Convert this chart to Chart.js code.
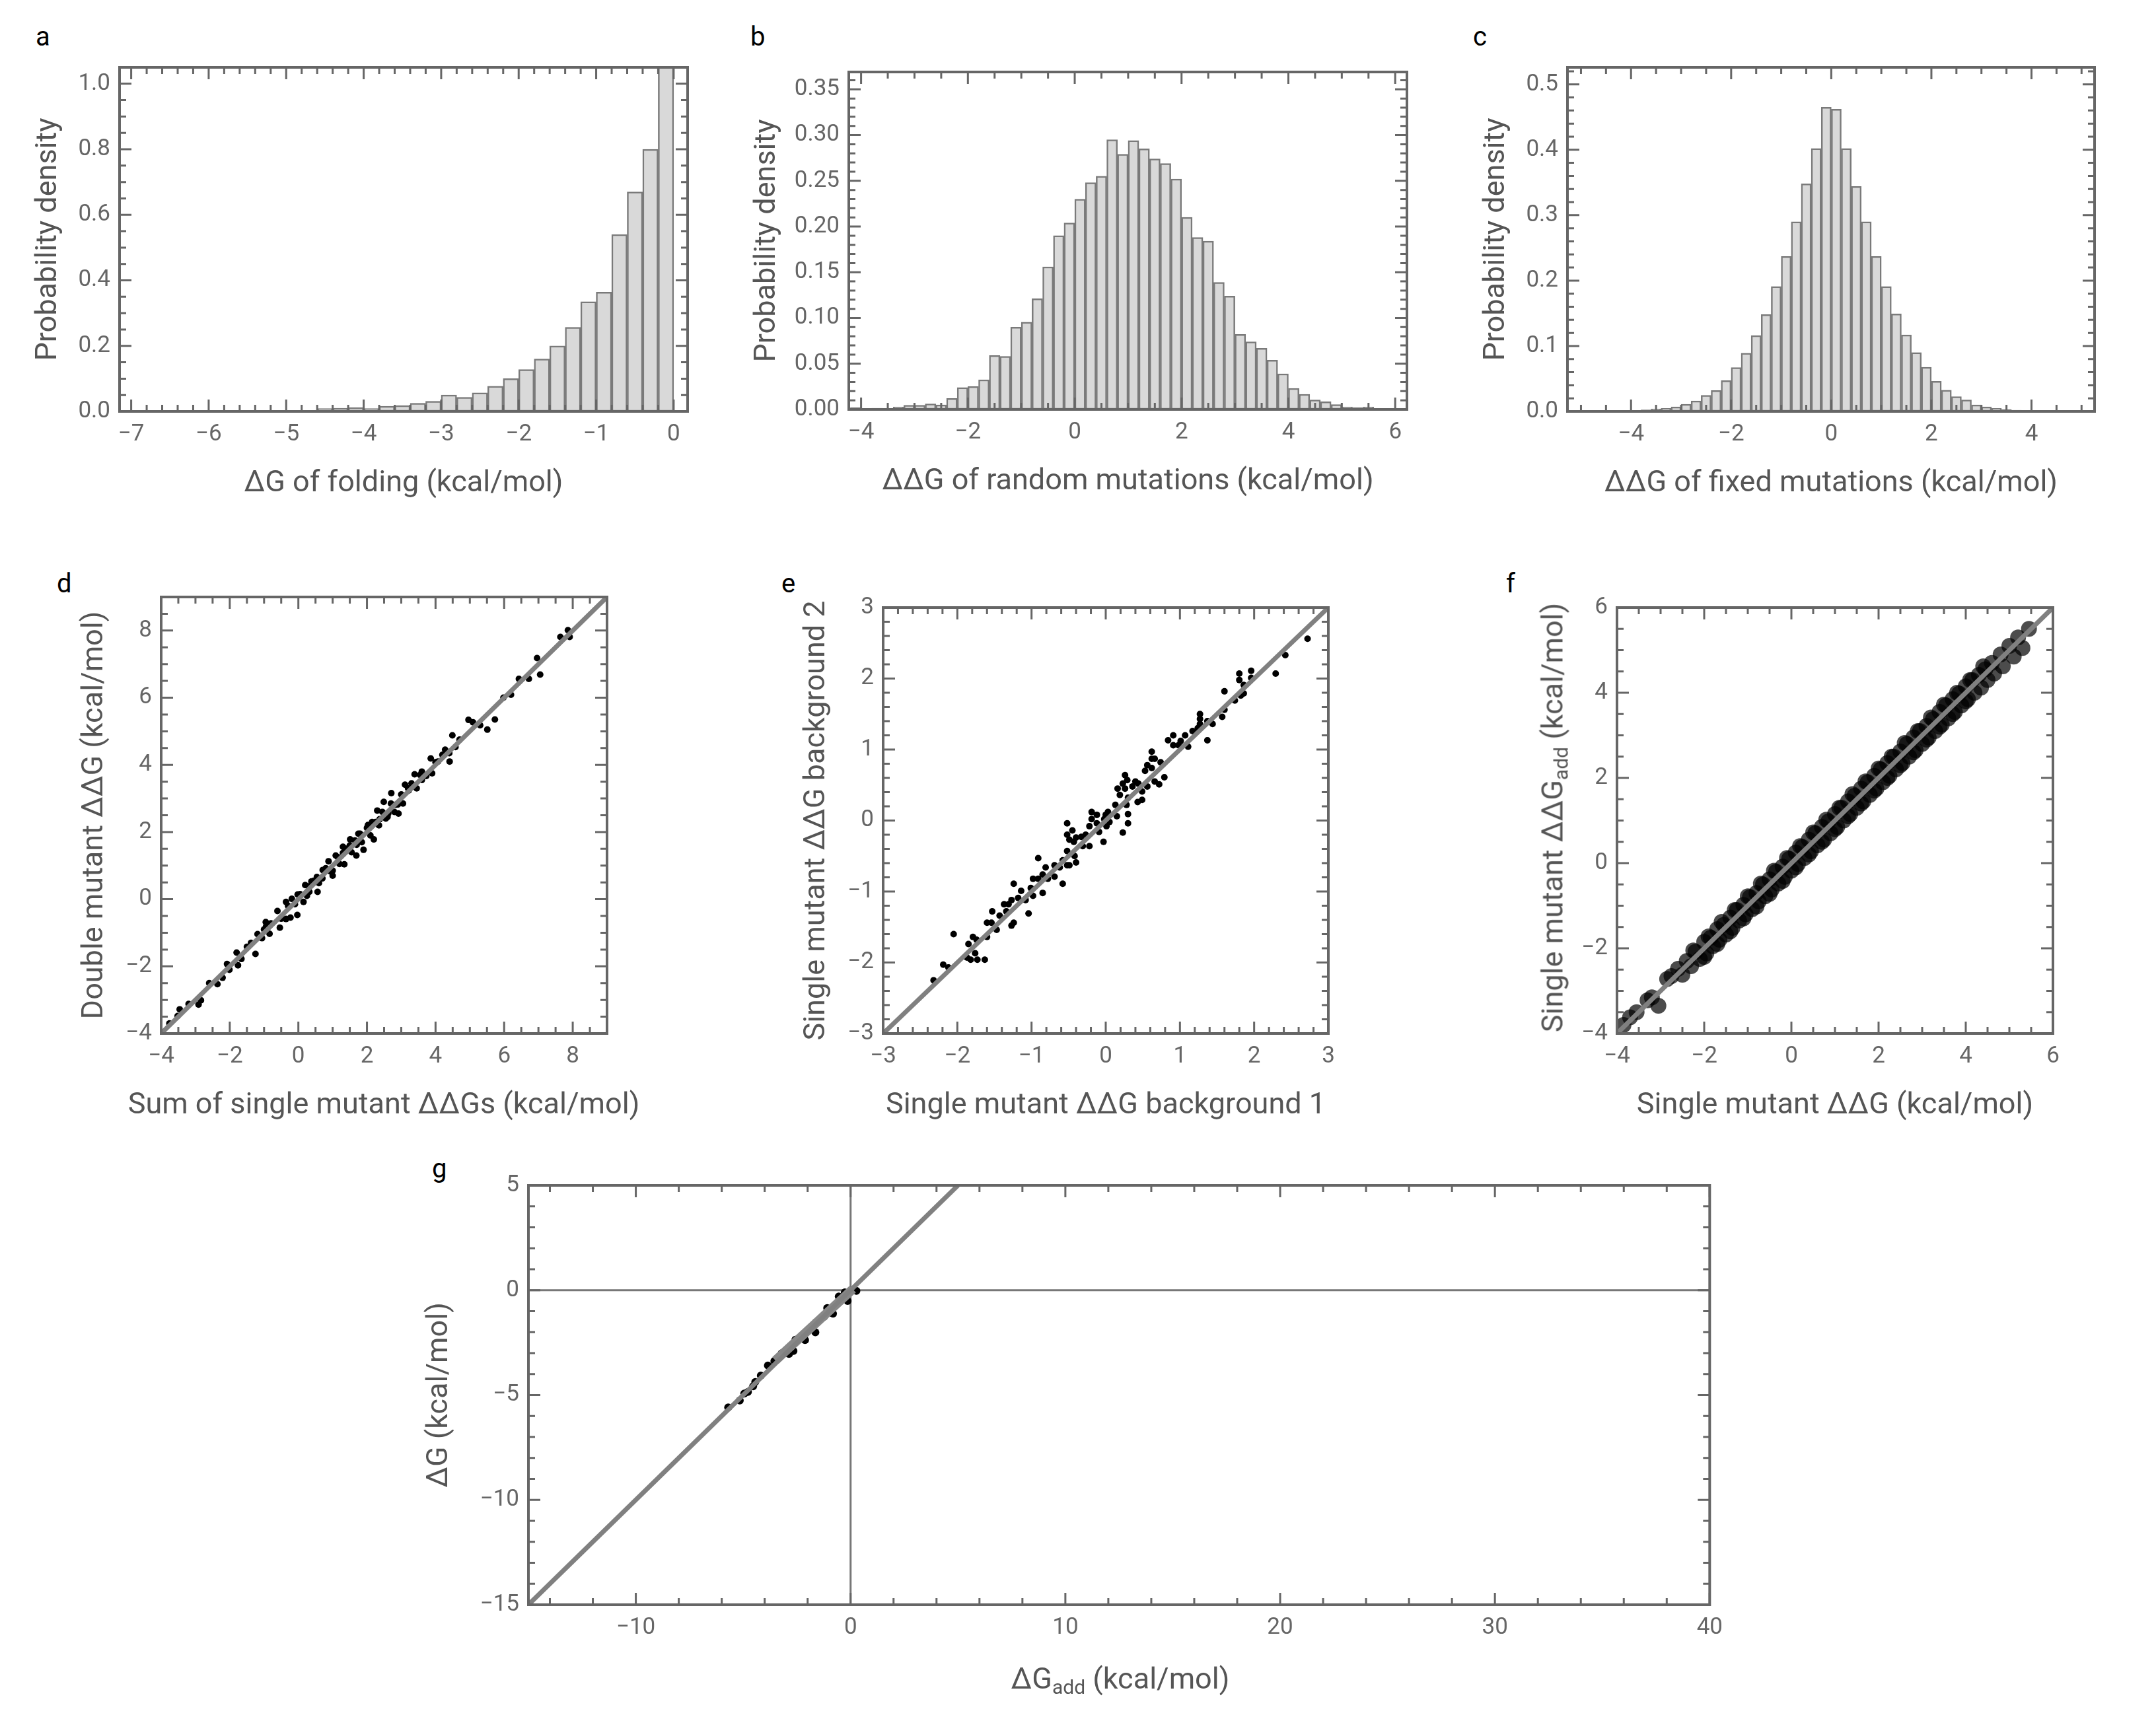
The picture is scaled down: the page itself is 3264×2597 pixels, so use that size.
<!DOCTYPE html>
<html>
<head>
<meta charset="utf-8">
<script src="https://cdn.jsdelivr.net/npm/chart.js@4.4.1/dist/chart.umd.min.js"></script>
<style>
body { margin:0; background:#fff; width:3264px; height:2597px; position:relative; font-family:Roboto, "Liberation Sans", sans-serif; }
.box { position:absolute; }
.lab { position:absolute; font-size:40px; color:#000; }
.ttl { position:absolute; font-size:45px; color:#555; white-space:nowrap; }
.ttl sub { font-size:30px; vertical-align:-8px; }
</style>
</head>
<body>
<div class="lab" style="left:54px;top:32px">a</div>
<div class="lab" style="left:1136px;top:32px">b</div>
<div class="lab" style="left:2230px;top:32px">c</div>
<div class="lab" style="left:86px;top:860px">d</div>
<div class="lab" style="left:1183px;top:860px">e</div>
<div class="lab" style="left:2280px;top:860px">f</div>
<div class="lab" style="left:654px;top:1746px">g</div>

<div class="box" id="pa"><canvas id="ca"></canvas></div>
<div class="box" id="pb"><canvas id="cb"></canvas></div>
<div class="box" id="pc"><canvas id="cc"></canvas></div>
<div class="box" id="pd"><canvas id="cd"></canvas></div>
<div class="box" id="pe"><canvas id="ce"></canvas></div>
<div class="box" id="pf"><canvas id="cf"></canvas></div>
<div class="box" id="pg"><canvas id="cg"></canvas></div>

<div class="ttl" style="left:581px;top:1670px;transform:translate(-50%,-50%)">Sum of single mutant ΔΔGs (kcal/mol)</div>
<div class="ttl" style="left:2352px;top:1238px;transform:translate(-50%,-50%) rotate(-90deg)">Single mutant ΔΔG<sub>add</sub> (kcal/mol)</div>
<div class="ttl" style="left:1696px;top:2543px;transform:translate(-50%,-50%)">ΔG<sub>add</sub> (kcal/mol)</div>

<script>
// panel a: ΔG of folding, bin centres and densities
var aX = [-5.9,-5.7,-5.5,-5.3,-5.1,-4.9,-4.7,-4.5,-4.3,-4.1,-3.9,-3.7,-3.5,-3.3,-3.1,-2.9,-2.7,-2.5,-2.3,-2.1,-1.9,-1.7,-1.5,-1.3,-1.1,-0.9,-0.7,-0.5,-0.3,-0.1];
var aY = [0.002,0.002,0.002,0.002,0.003,0.003,0.002,0.009,0.01,0.012,0.009,0.016,0.018,0.025,0.031,0.05,0.043,0.057,0.077,0.10,0.128,0.16,0.20,0.257,0.335,0.364,0.54,0.67,0.80,1.10];

// panel b: ΔΔG of random mutations
var bX = [-4.1,-3.7,-3.3,-3.1,-2.9,-2.7,-2.5,-2.3,-2.1,-1.9,-1.7,-1.5,-1.3,-1.1,-0.9,-0.7,-0.5,-0.3,-0.1,0.1,0.3,0.5,0.7,0.9,1.1,1.3,1.5,1.7,1.9,2.1,2.3,2.5,2.7,2.9,3.1,3.3,3.5,3.7,3.9,4.1,4.3,4.5,4.7,4.9,5.1,5.3,5.5,5.7];
var bY = [0.002,0.0013,0.0027,0.0047,0.0047,0.006,0.005,0.012,0.024,0.025,0.0325,0.059,0.058,0.09,0.0955,0.121,0.156,0.19,0.204,0.23,0.248,0.255,0.295,0.279,0.294,0.285,0.274,0.269,0.252,0.21,0.188,0.184,0.139,0.124,0.082,0.074,0.067,0.054,0.039,0.023,0.0166,0.0105,0.0085,0.0054,0.0027,0.002,0.0027,0.0007];

// panel c: ΔΔG of fixed mutations
var cX = [-4.1,-3.9,-3.7,-3.5,-3.3,-3.1,-2.9,-2.7,-2.5,-2.3,-2.1,-1.9,-1.7,-1.5,-1.3,-1.1,-0.9,-0.7,-0.5,-0.3,-0.1,0.1,0.3,0.5,0.7,0.9,1.1,1.3,1.5,1.7,1.9,2.1,2.3,2.5,2.7,2.9,3.1,3.3,3.5,3.7,3.9,4.1];
var cY = [0.001,0.0014,0.0024,0.0038,0.0047,0.007,0.011,0.016,0.0246,0.032,0.047,0.067,0.089,0.116,0.148,0.191,0.237,0.29,0.348,0.402,0.465,0.462,0.402,0.344,0.29,0.237,0.191,0.149,0.117,0.09,0.0676,0.046,0.0326,0.0227,0.0175,0.010,0.007,0.0047,0.003,0.002,0.0014,0.001];

// panel d: sum of single ΔΔGs vs double mutant ΔΔG
var dX = [-3.76,-3.52,-3.46,-2.91,-2.84,-2.36,-2.21,-2.08,-2.01,-1.80,-1.76,-1.66,-1.38,-1.25,-1.19,-1.06,-0.95,-0.94,-0.84,-0.61,-0.54,-0.36,-0.36,-0.23,-0.19,-0.03,-0.02,0.15,0.20,0.32,0.38,0.54,0.56,0.71,0.88,1.00,1.09,1.30,1.34,1.51,1.69,1.75,1.90,2.03,2.20,2.30,2.37,2.49,2.62,2.71,2.83,2.92,3.11,3.22,3.39,3.60,3.73,3.86,4.07,4.28,4.41,4.49,4.58,4.96,5.09,5.30,5.51,5.73,5.98,6.20,6.43,6.72,6.96,7.05,7.64,7.86,7.91,
  -0.8,-0.5,-0.3,0.05,0.25,0.45,0.6,0.8,0.95,1.15,1.2,1.4,1.55,1.65,1.85,2.0,2.1,2.15,2.35,2.45,2.55,2.7,2.8,3.0,3.05,3.3,3.45,3.55,4.2,4.7,1.0,1.8,2.6,3.9,0.7,1.5,
  -1.5,-1.0,-0.1,0.3,0.9,1.3,1.7,2.25,2.9,3.2,3.6,4.0,4.4,-2.6,-3.2];
var dY = [-3.70,-3.48,-3.28,-3.14,-3.01,-2.53,-2.34,-1.93,-2.10,-1.59,-1.97,-1.78,-1.30,-1.63,-1.04,-1.16,-0.68,-0.81,-1.03,-0.35,-0.85,-0.08,-0.59,-0.55,0.01,-0.47,0.14,-0.08,0.42,0.22,0.53,0.66,0.22,0.87,1.13,0.70,1.30,1.56,1.04,1.78,1.30,1.95,1.47,2.21,1.78,2.64,2.38,2.90,2.55,3.16,2.81,2.55,3.41,3.24,3.72,3.80,3.67,4.19,4.10,4.45,4.10,4.88,4.53,5.34,5.27,5.18,5.05,5.35,6.00,6.09,6.56,6.56,7.18,6.69,7.81,8.01,7.81,
  -0.72,-0.58,-0.2,0.15,0.1,0.55,0.48,0.92,0.82,1.25,1.05,1.5,1.4,1.75,1.7,2.12,1.9,2.3,2.2,2.6,2.4,2.85,2.6,3.12,2.85,3.45,3.3,3.7,4.3,4.75,0.85,1.95,2.45,3.75,0.62,1.6,
  -1.42,-0.9,-0.15,0.38,0.85,1.38,1.62,2.3,2.82,3.3,3.55,4.08,4.35,-2.5,-3.12];

// panel e: background 1 vs background 2
var eX = [-2.32,-2.19,-2.12,-2.05,-1.87,-1.82,-1.73,-1.63,-1.85,-1.79,-1.76,-1.74,-1.60,-1.60,-1.54,-1.53,-1.47,-1.43,-1.37,-1.31,-1.34,-1.27,-1.27,-1.24,-1.24,-1.18,-1.14,-1.08,-1.04,-1.01,-0.98,-0.91,-0.98,-0.85,-0.85,-0.81,-0.78,-0.91,-0.69,-0.69,-0.62,-0.58,-0.58,-0.52,-0.52,-0.49,-0.42,-0.40,-0.52,-0.52,-0.45,-0.49,-0.43,-0.40,-0.33,-0.31,-0.27,-0.22,-0.22,-0.19,-0.19,-0.12,-0.12,-0.09,-0.03,-0.02,0.00,0.03,0.01,0.05,0.13,0.15,0.16,0.19,0.23,0.23,0.26,0.26,0.30,0.30,0.28,0.30,0.29,0.36,0.40,0.43,0.44,0.49,0.49,0.56,0.53,0.56,0.62,0.62,0.66,0.62,0.66,0.72,0.74,0.79,0.84,0.91,0.91,0.98,1.01,1.07,1.11,1.17,1.24,1.27,1.27,1.27,1.37,1.37,1.44,1.57,1.60,1.60,1.74,1.80,1.80,1.82,1.86,1.86,1.96,1.96,2.29,2.42,2.72];
var eY = [-2.25,-2.03,-2.07,-1.60,-1.93,-1.96,-1.96,-1.96,-1.74,-1.64,-1.87,-1.68,-1.64,-1.44,-1.44,-1.28,-1.54,-1.34,-1.18,-1.18,-1.28,-1.12,-1.48,-1.44,-0.89,-1.09,-0.99,-1.12,-1.31,-0.95,-0.82,-0.82,-1.06,-1.02,-0.76,-0.66,-0.82,-0.53,-0.79,-0.63,-0.66,-0.89,-0.56,-0.43,-0.63,-0.63,-0.50,-0.59,-0.04,-0.20,-0.14,-0.27,-0.30,-0.24,-0.23,-0.36,-0.20,-0.36,-0.08,0.02,0.12,0.08,-0.04,-0.16,-0.30,0.02,0.08,0.12,-0.08,-0.02,0.22,0.06,0.45,0.36,-0.17,0.52,0.64,0.45,-0.04,0.09,0.22,0.32,0.57,0.48,0.55,0.26,0.52,0.41,0.29,0.48,0.70,0.78,0.97,0.87,0.87,0.74,0.55,0.51,0.82,0.61,1.13,1.20,1.06,1.06,1.12,1.20,1.04,1.26,1.30,1.50,1.43,1.36,1.13,1.40,1.36,1.46,1.82,1.56,1.69,2.07,1.98,1.76,1.91,1.79,2.11,2.01,2.07,2.33,2.56];

// panel f: single mutant ΔΔG vs additive ΔΔG
var fX = [-3.85,-3.7,-3.55,-3.3,-3.2,-3.05,-2.85,-2.75,-2.6,-2.5,-2.4,-2.3,-2.2,-2.1,-2.0,-1.95,-1.85,-1.8,-1.7,-1.65,-1.55,-1.5,-1.4,-1.35,-1.25,-1.2,-1.1,-1.05,-0.95,-0.9,-0.8,-0.75,-0.65,-0.6,-0.5,-0.45,-0.35,-0.3,-0.2,-0.15,-0.05,0.0,0.1,0.15,0.25,0.3,0.4,0.45,0.55,0.6,0.7,0.75,0.85,0.9,1.0,1.05,1.15,1.2,1.3,1.35,1.45,1.5,1.6,1.65,1.75,1.8,1.9,1.95,2.05,2.1,2.2,2.25,2.35,2.4,2.5,2.55,2.65,2.7,2.8,2.85,2.95,3.0,3.1,3.15,3.25,3.3,3.4,3.45,3.55,3.6,3.7,3.75,3.85,3.9,4.0,4.05,4.15,4.2,4.3,4.35,4.45,4.5,4.6,4.65,4.8,4.85,5.0,5.1,5.2,5.3,5.45,
  -2.25,-1.9,-1.6,-1.3,-1.0,-0.7,-0.4,-0.1,0.2,0.5,0.8,1.1,1.4,1.7,2.0,2.3,2.6,2.9,3.2,3.5,3.8,4.1,4.4,
  -2.0,-1.7,-1.4,-1.1,-0.8,-0.5,-0.2,0.1,0.4,0.7,1.0,1.3,1.6,1.9,2.2,2.5,2.8,3.1,3.4,3.7,4.0];
var fY = [-3.8,-3.62,-3.5,-3.22,-3.15,-3.35,-2.72,-2.65,-2.48,-2.62,-2.3,-2.42,-2.08,-2.25,-1.85,-2.12,-1.75,-1.95,-1.55,-1.8,-1.45,-1.68,-1.28,-1.52,-1.1,-1.35,-0.98,-1.2,-0.8,-1.08,-0.7,-0.9,-0.5,-0.78,-0.38,-0.62,-0.2,-0.48,-0.08,-0.32,0.1,-0.18,0.25,-0.02,0.38,0.12,0.55,0.28,0.7,0.42,0.85,0.55,0.98,0.7,1.15,0.85,1.3,1.0,1.45,1.15,1.58,1.3,1.75,1.45,1.9,1.6,2.05,1.75,2.2,1.9,2.35,2.05,2.5,2.2,2.62,2.35,2.8,2.5,2.95,2.65,3.1,2.8,3.22,2.95,3.38,3.1,3.55,3.25,3.7,3.4,3.85,3.55,3.98,3.7,4.15,3.85,4.3,4.0,4.42,4.12,4.55,4.3,4.7,4.45,4.9,4.62,5.1,4.85,5.3,5.05,5.5,
  -2.05,-1.72,-1.38,-1.1,-0.78,-0.48,-0.18,0.12,0.4,0.72,1.02,1.3,1.62,1.92,2.22,2.5,2.82,3.1,3.42,3.72,4.0,4.3,4.62,
  -2.2,-1.9,-1.6,-1.3,-1.02,-0.72,-0.42,-0.1,0.2,0.5,0.8,1.1,1.4,1.7,2.0,2.3,2.6,2.9,3.2,3.5,3.8];

// panel g: ΔG_add vs ΔG
var gX = [-5.70,-5.16,-4.95,-4.78,-4.54,-4.44,-4.18,-3.85,-3.55,-3.21,-2.66,-2.57,-2.12,-1.64,-1.61,-1.09,-0.82,-0.55,-0.14,0.00,0.27,-0.27,-1.23,-2.87];
var gY = [-5.59,-5.26,-4.93,-4.85,-4.58,-4.38,-4.07,-3.59,-3.38,-3.01,-2.90,-2.36,-2.38,-2.01,-1.53,-0.85,-1.12,-0.30,-0.51,-0.03,-0.03,-0.10,-1.26,-3.04];
var gBandX = [-3.5, 0.1];
var gBandY = [-3.35, 0.05];

var GREY = '#666';
var TICKFONT = { family: 'Roboto, "Liberation Sans", sans-serif', size: 35 };
var TITLEFONT = { family: 'Roboto, "Liberation Sans", sans-serif', size: 45 };

function fmt(v) {
  var s = this.options.decimals != null ? Math.abs(v).toFixed(this.options.decimals) : String(Math.abs(v));
  return v < 0 ? '\u2212' + s : s;
}

var frameTicks = {
  id: 'frameTicks',
  afterDraw: function(chart) {
    var o = chart.options.plugins.frameTicks;
    if (!o) return;
    var c = chart.ctx, a = chart.chartArea, xs = chart.scales.x, ys = chart.scales.y;
    c.save();
    c.strokeStyle = GREY;
    c.lineWidth = 3;
    // minor and major ticks, inside the frame on all four sides
    function side(scale, minor, majors, horiz) {
      var start = Math.ceil(scale.min / minor - 1e-6) * minor;
      for (var v = start; v <= scale.max + 1e-9; v += minor) {
        var isMajor = majors.some(function(m){ return Math.abs(m - v) < minor / 10; });
        var L = isMajor ? 18 : 10;
        var p = scale.getPixelForValue(v);
        c.beginPath();
        if (horiz) {
          c.moveTo(p, a.bottom); c.lineTo(p, a.bottom - L);
          c.moveTo(p, a.top); c.lineTo(p, a.top + L);
        } else {
          c.moveTo(a.left, p); c.lineTo(a.left + L, p);
          c.moveTo(a.right, p); c.lineTo(a.right - L, p);
        }
        c.stroke();
      }
    }
    side(xs, o.xMinor, o.xMajor, true);
    side(ys, o.yMinor, o.yMajor, false);
    c.lineWidth = 4;
    c.strokeRect(a.left, a.top, a.right - a.left, a.bottom - a.top);
    c.restore();
  }
};

function axis(min, max, majors, title, width, height, decimals) {
  return {
    type: 'linear', min: min, max: max, decimals: decimals, offset: false,
    grid: { display: false, drawTicks: false, offset: false },
    border: { display: false },
    ticks: { color: GREY, font: TICKFONT, padding: 14, autoSkip: false, maxRotation: 0, callback: fmt },
    afterBuildTicks: function(s) { s.ticks = majors.map(function(v){ return { value: v }; }); },
    afterFit: function(s) { if (width) s.width = width; if (height) s.height = height; },
    title: { display: !!title, text: title, color: '#555', font: TITLEFONT, padding: width ? { top: 0, bottom: 4 } : { top: 10, bottom: 13 } }
  };
}

function place(id, fl, ft, fr, fb, yW, xH) {
  var el = document.getElementById(id);
  el.style.left = (fl - yW) + 'px';
  el.style.top = (ft - 20) + 'px';
  el.style.width = (fr - fl + yW + 30) + 'px';
  el.style.height = (fb - ft + 20 + xH) + 'px';
}

function baseOpts(xa, ya, ft) {
  return {
    responsive: true, maintainAspectRatio: false, animation: false, devicePixelRatio: 1,
    layout: { padding: { top: 20, right: 30, left: 0, bottom: 0 } },
    plugins: { legend: { display: false }, tooltip: { enabled: false }, frameTicks: ft },
    scales: { x: xa, y: ya }
  };
}

function pts(xs, ys) { return xs.map(function(x, i){ return { x: x, y: ys[i] }; }); }

function hist(canvas, xs, ys, xa, ya, ft) {
  new Chart(document.getElementById(canvas), {
    type: 'bar',
    data: { datasets: [{ data: pts(xs, ys), backgroundColor: '#d9d9d9', borderColor: '#7a7a7a', borderWidth: 2.5, borderSkipped: false, barPercentage: 1, categoryPercentage: 1 }] },
    options: baseOpts(xa, ya, ft),
    plugins: [frameTicks]
  });
}

function scatter(canvas, xs, ys, lineX, lineY, xa, ya, ft, dotColor, radius, extra) {
  var ds = [
    { type: 'line', data: pts(lineX, lineY), borderColor: '#808080', borderWidth: 7, pointRadius: 0, order: 0 },
    { type: 'scatter', data: pts(xs, ys), backgroundColor: dotColor, borderWidth: 0, pointRadius: radius, order: 2 }
  ];
  if (extra) ds = ds.concat(extra);
  var o = baseOpts(xa, ya, ft);
  new Chart(document.getElementById(canvas), { type: 'scatter', data: { datasets: ds }, options: o, plugins: [frameTicks] });
}

var XH = 150;

// a
place('pa', 181, 87, 1041, 623, 134, XH);
hist('ca', aX, aY,
  axis(-7.15, 0.18, [-7,-6,-5,-4,-3,-2,-1,0], 'ΔG of folding (kcal/mol)', 0, XH),
  axis(0, 1.05, [0,0.2,0.4,0.6,0.8,1.0], 'Probability density', 134, 0, 1),
  { xMinor: 0.2, xMajor: [-7,-6,-5,-4,-3,-2,-1,0], yMinor: 0.05, yMajor: [0,0.2,0.4,0.6,0.8,1.0] });

// b
place('pb', 1285, 94, 2130, 620, 150, XH);
hist('cb', bX, bY,
  axis(-4.23, 6.22, [-4,-2,0,2,4,6], 'ΔΔG of random mutations (kcal/mol)', 0, XH),
  axis(0, 0.369, [0,0.05,0.10,0.15,0.20,0.25,0.30,0.35], 'Probability density', 150, 0, 2),
  { xMinor: 0.5, xMajor: [-4,-2,0,2,4,6], yMinor: 0.01, yMajor: [0,0.05,0.1,0.15,0.2,0.25,0.3,0.35] });

// c
place('pc', 2373, 87, 3171, 623, 134, XH);
hist('cc', cX, cY,
  axis(-5.27, 5.26, [-4,-2,0,2,4], 'ΔΔG of fixed mutations (kcal/mol)', 0, XH),
  axis(0, 0.526, [0,0.1,0.2,0.3,0.4,0.5], 'Probability density', 134, 0, 1),
  { xMinor: 0.5, xMajor: [-4,-2,0,2,4], yMinor: 0.02, yMajor: [0,0.1,0.2,0.3,0.4,0.5] });

// d
place('pd', 244, 889, 919, 1565, 127, XH);
scatter('cd', dX, dY, [-4, 9], [-4, 9],
  axis(-4, 9, [-4,-2,0,2,4,6,8], '', 0, XH),
  axis(-4, 9, [-4,-2,0,2,4,6,8], 'Double mutant ΔΔG (kcal/mol)', 127, 0),
  { xMinor: 0.5, xMajor: [-4,-2,0,2,4,6,8], yMinor: 0.5, yMajor: [-4,-2,0,2,4,6,8] }, '#000', 5);

// e
place('pe', 1337, 905, 2011, 1565, 127, XH);
scatter('ce', eX, eY, [-3, 3], [-3, 3],
  axis(-3, 3, [-3,-2,-1,0,1,2,3], 'Single mutant ΔΔG background 1', 0, XH),
  axis(-3, 3, [-3,-2,-1,0,1,2,3], 'Single mutant ΔΔG background 2', 127, 0),
  { xMinor: 0.2, xMajor: [-3,-2,-1,0,1,2,3], yMinor: 0.2, yMajor: [-3,-2,-1,0,1,2,3] }, '#000', 5);

// f
place('pf', 2448, 905, 3108, 1565, 127, XH);
scatter('cf', fX, fY, [-4, 6], [-4, 6],
  axis(-4, 6, [-4,-2,0,2,4,6], 'Single mutant ΔΔG (kcal/mol)', 0, XH),
  axis(-4, 6, [-4,-2,0,2,4,6], '', 127, 0),
  { xMinor: 0.5, xMajor: [-4,-2,0,2,4,6], yMinor: 0.5, yMajor: [-4,-2,0,2,4,6] }, 'rgba(0,0,0,0.7)', 12);

// g
place('pg', 800, 1780, 2592, 2430, 161, 100);
scatter('cg', gX, gY, [-15, 5], [-15, 5],
  axis(-15, 40, [-10,0,10,20,30,40], '', 0, 100),
  axis(-15, 5, [-15,-10,-5,0,5], 'ΔG (kcal/mol)', 161, 0),
  { xMinor: 2, xMajor: [-10,0,10,20,30,40], yMinor: 1, yMajor: [-15,-10,-5,0,5] }, '#000', 6,
  [
    { type: 'line', data: pts([0, 0], [-15, 5]), borderColor: '#777', borderWidth: 3, pointRadius: 0, order: 3 },
    { type: 'line', data: pts([-15, 40], [0, 0]), borderColor: '#777', borderWidth: 3, pointRadius: 0, order: 3 },
    { type: 'line', data: pts(gBandX, gBandY), borderColor: '#888', borderWidth: 14, pointRadius: 0, order: 1 }
  ]);
</script>
</body>
</html>
